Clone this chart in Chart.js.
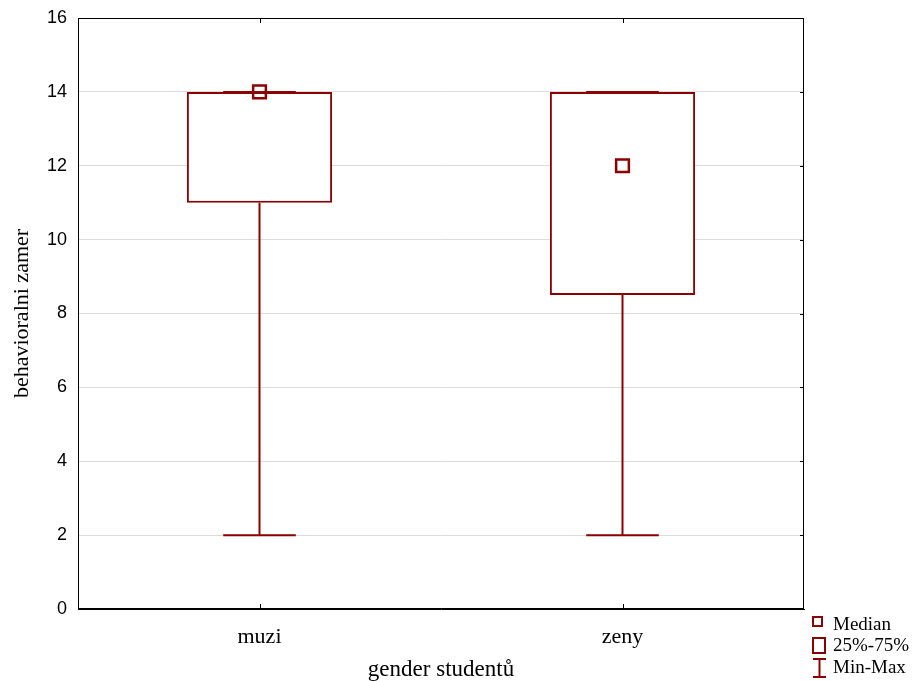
<!doctype html>
<html lang="cs">
<head>
<meta charset="UTF-8" />
<title>behavioralni zamer</title>
<style>
  html, body { margin: 0; padding: 0; background: #fff; }
  #wrap { width: 914px; height: 681px; }
</style>
</head>
<body>
<div id="wrap"><canvas id="chart" width="914" height="681"></canvas></div>
<script src="https://cdn.jsdelivr.net/npm/chart.js"></script>
<script>
  // data
  const categories = ["muzi", "zeny"];
  const mins = [2, 2];
  const q1s = [11, 8.5];
  const medians = [14, 12];
  const q3s = [14, 14];
  const maxs = [14, 14];
  const yTicks = [0, 2, 4, 6, 8, 10, 12, 14, 16];

  const red = "#8b0000";
  const serif = "'Liberation Serif', 'DejaVu Serif', serif";
  const sans = "'Liberation Sans', Arial, sans-serif";

  // whiskers + caps, drawn under the boxes
  const whiskers = {
    id: "whiskers",
    beforeDatasetsDraw(chart) {
      const { ctx, scales: { x, y } } = chart;
      const capHalf = (x.getPixelForValue(1) - x.getPixelForValue(0)) * 0.1;
      ctx.save();
      ctx.strokeStyle = red;
      ctx.lineWidth = 2;
      categories.forEach((c, i) => {
        const cx = x.getPixelForValue(i);
        ctx.beginPath();
        ctx.moveTo(cx, y.getPixelForValue(mins[i]));
        ctx.lineTo(cx, y.getPixelForValue(q1s[i]));
        ctx.moveTo(cx, y.getPixelForValue(q3s[i]));
        ctx.lineTo(cx, y.getPixelForValue(maxs[i]));
        ctx.moveTo(cx - capHalf, y.getPixelForValue(mins[i]));
        ctx.lineTo(cx + capHalf, y.getPixelForValue(mins[i]));
        ctx.moveTo(cx - capHalf, y.getPixelForValue(maxs[i]));
        ctx.lineTo(cx + capHalf, y.getPixelForValue(maxs[i]));
        ctx.stroke();
      });
      ctx.restore();
    }
  };

  // frame, inward ticks and the legend
  const frame = {
    id: "frame",
    afterDraw(chart) {
      const { ctx, chartArea: a, scales: { x, y } } = chart;
      ctx.save();
      ctx.strokeStyle = "#000";
      ctx.lineWidth = 1;
      ctx.strokeRect(a.left + 0.5, a.top + 0.5, a.right - a.left - 1, a.bottom - a.top - 1);
      ctx.beginPath();
      categories.forEach((c, i) => {
        const cx = Math.round(x.getPixelForValue(i)) + 0.5;
        ctx.moveTo(cx, a.top);
        ctx.lineTo(cx, a.top + 5);
        ctx.moveTo(cx, a.bottom);
        ctx.lineTo(cx, a.bottom - 5);
      });
      yTicks.forEach(v => {
        const py = Math.round(y.getPixelForValue(v)) + 0.5;
        ctx.moveTo(a.right, py);
        ctx.lineTo(a.right - 4, py);
      });
      ctx.stroke();

      // legend
      ctx.strokeStyle = red;
      ctx.lineWidth = 2;
      ctx.strokeRect(813, 617, 9, 9);
      ctx.strokeRect(813, 638, 12, 15);
      ctx.beginPath();
      ctx.moveTo(813, 659); ctx.lineTo(826, 659);
      ctx.moveTo(819.5, 659); ctx.lineTo(819.5, 677);
      ctx.moveTo(813, 677); ctx.lineTo(826, 677);
      ctx.stroke();
      ctx.fillStyle = "#000";
      ctx.font = "19px " + serif;
      ctx.textBaseline = "alphabetic";
      ctx.textAlign = "left";
      ctx.fillText("Median", 833, 630);
      ctx.fillText("25%-75%", 833, 651);
      ctx.fillText("Min-Max", 833, 673);
      ctx.restore();
    }
  };

  new Chart(document.getElementById("chart"), {
    data: {
      labels: categories,
      datasets: [
        {
          type: "line",
          label: "Median",
          data: medians,
          showLine: false,
          pointStyle: "rect",
          pointRadius: 9,
          pointHoverRadius: 9,
          pointBorderWidth: 2.5,
          pointBorderColor: red,
          pointBackgroundColor: "rgba(0,0,0,0)",
          order: 0
        },
        {
          type: "bar",
          label: "25%-75%",
          data: q1s.map((q, i) => [q, q3s[i]]),
          backgroundColor: "#fff",
          borderColor: red,
          borderWidth: 2,
          borderSkipped: false,
          barPercentage: 0.4,
          categoryPercentage: 1,
          order: 1
        }
      ]
    },
    options: {
      responsive: false,
      animation: false,
      layout: { padding: { top: 18, right: 110, left: 0, bottom: 0 } },
      plugins: { legend: { display: false }, tooltip: { enabled: false } },
      scales: {
        x: {
          type: "category",
          offset: true,
          grid: { display: false, drawTicks: false },
          border: { color: "#000", width: 1 },
          ticks: { color: "#000", padding: 15, font: { family: serif, size: 22 } },
          title: {
            display: true,
            text: "gender studentů",
            color: "#000",
            font: { family: serif, size: 23, lineHeight: 1 },
            padding: { top: 0, bottom: 0 }
          },
          afterFit(s) { s.height = 72; }
        },
        y: {
          min: 0,
          max: 16,
          afterBuildTicks(s) { s.ticks = yTicks.map(v => ({ value: v })); },
          grid: { color: "#dcdcdc", lineWidth: 1, drawTicks: false },
          border: { color: "#000", width: 1 },
          ticks: { color: "#000", padding: 11, font: { family: sans, size: 18 } },
          title: {
            display: true,
            text: "behavioralni zamer",
            color: "#000",
            font: { family: serif, size: 22 },
            padding: { top: 9, bottom: 0 }
          },
          afterFit(s) { s.width = 78; s.paddingTop = 0; s.paddingBottom = 0; }
        }
      }
    },
    plugins: [whiskers, frame]
  });
</script>
</body>
</html>
